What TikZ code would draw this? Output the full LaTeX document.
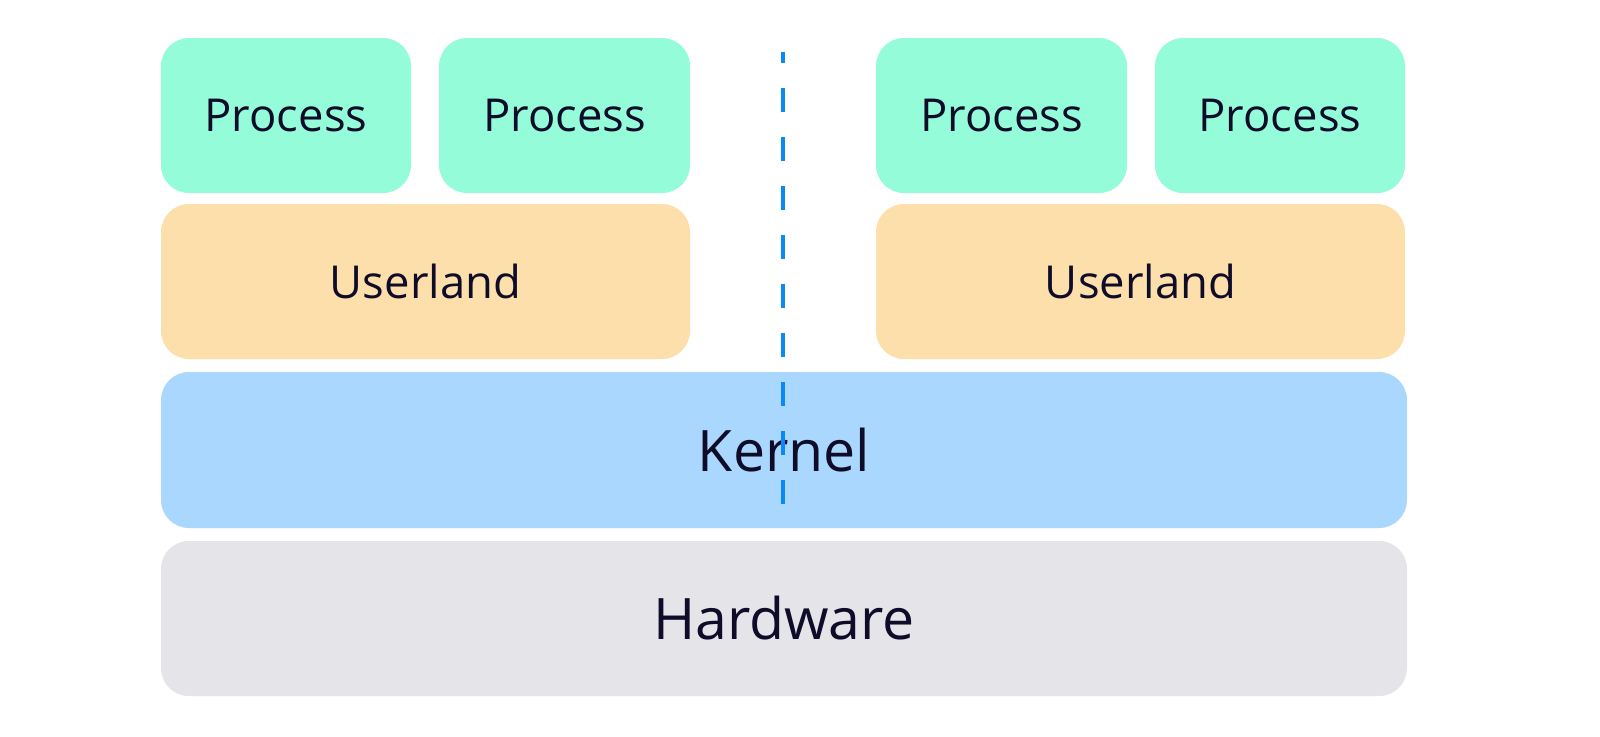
\documentclass[tikz,border=0pt]{standalone}
\usepackage{fontspec}
\setmainfont{Open Sans}
\definecolor{proc}{HTML}{94FCD8}
\definecolor{user}{HTML}{FDDFAB}
\definecolor{kern}{HTML}{AAD7FE}
\definecolor{hard}{HTML}{E4E4E9}
\definecolor{ink}{HTML}{0F0C2A}
\definecolor{sep}{HTML}{0A88F5}
\begin{document}
\begin{tikzpicture}[x=0.5pt,y=-0.5pt,
  layer/.style={rounded corners=14pt,inner sep=0pt,text=ink,anchor=center},
  small/.style={font=\fontsize{22.7}{27}\selectfont},
  big/.style={font=\fontsize{28.6}{34}\selectfont}]
\useasboundingbox (0,0) rectangle (1600,736);
\fill[white] (0,0) rectangle (1600,736);
\node[layer,small,fill=proc,minimum width=125pt,minimum height=77.5pt] (p1) at (286,115.5) {Process};
\node[layer,small,fill=proc,minimum width=125.5pt,minimum height=77.5pt] (p2) at (564.5,115.5) {Process};
\node[layer,small,fill=proc,minimum width=125.5pt,minimum height=77.5pt] (p3) at (1001.5,115.5) {Process};
\node[layer,small,fill=proc,minimum width=125pt,minimum height=77.5pt] (p4) at (1280,115.5) {Process};
\node[layer,small,fill=user,minimum width=264.5pt,minimum height=77.5pt] (u1) at (425.5,281.5) {Userland};
\node[layer,small,fill=user,minimum width=264.5pt,minimum height=77.5pt] (u2) at (1140.5,281.5) {Userland};
\node[layer,big,fill=kern,minimum width=623pt,minimum height=78pt] (k) at (784,450) {Kernel};
\node[layer,big,fill=hard,minimum width=623pt,minimum height=77.5pt] (h) at (784,618.5) {Hardware};
\coordinate (s1) at (783,52);
\coordinate (s2) at (783,524);
\draw[sep,line width=2pt,dash pattern=on 12pt off 12.5pt,dash phase=6.5pt] (s1) -- (s2);
\end{tikzpicture}
\end{document}
